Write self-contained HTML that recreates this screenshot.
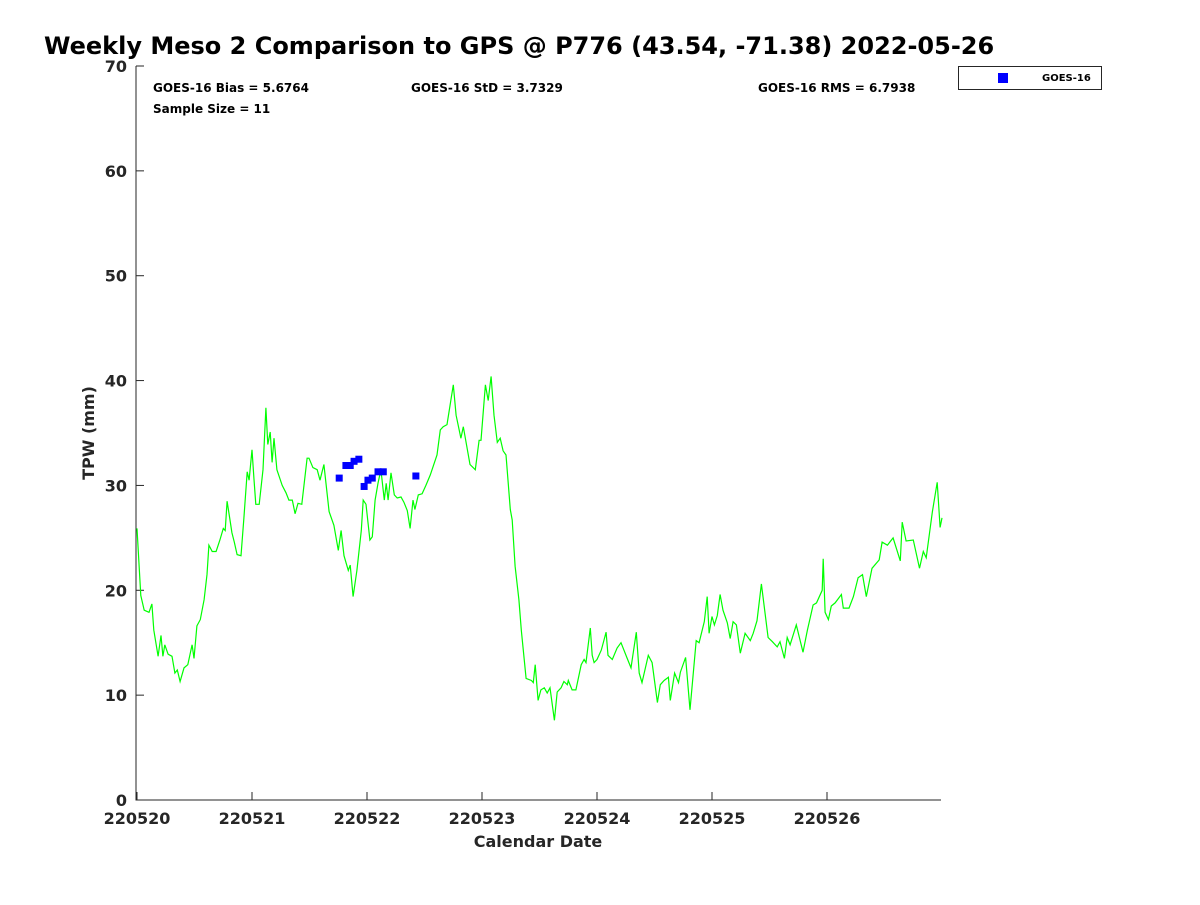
<!DOCTYPE html>
<html><head><meta charset="utf-8"><style>
body{margin:0;background:#fff;}
svg text{font-family:"DejaVu Sans","Liberation Sans",sans-serif;font-weight:bold;}
</style></head><body>
<svg id="chart" width="1200" height="900">
<text x="44" y="54" font-size="24" fill="#000">Weekly Meso 2 Comparison to GPS @ P776 (43.54, -71.38) 2022-05-26</text>
<g id="axes"></g>
<g id="plot"></g>
<text x="153" y="92" font-size="12" fill="#000">GOES-16 Bias = 5.6764</text>
<text x="411" y="92" font-size="12" fill="#000">GOES-16 StD = 3.7329</text>
<text x="758" y="92" font-size="12" fill="#000">GOES-16 RMS = 6.7938</text>
<text x="153" y="113" font-size="12" fill="#000">Sample Size = 11</text>
<text x="538" y="847" font-size="16" fill="#262626" text-anchor="middle">Calendar Date</text>
<text transform="translate(94,433) rotate(-90)" font-size="16" fill="#262626" text-anchor="middle">TPW (mm)</text>
<g>
<rect x="958.5" y="66.5" width="143" height="23" fill="#fff" stroke="#262626"/>
<rect x="998" y="73" width="10" height="10" fill="#0000ff"/>
<text x="1042" y="81" font-size="10" fill="#000">GOES-16</text>
</g>
</svg>
<script>
const gpsHours=[0,0.8,1.5,2.5,3.1,3.5,4.4,5.0,5.4,5.8,6.5,7.3,7.9,8.4,9.0,9.8,10.6,11.5,11.9,12.5,13.2,14.0,14.6,15.0,15.7,16.5,17.3,18.0,18.4,18.8,19.4,19.8,20.3,20.9,21.7,22.3,23.0,23.4,24.0,24.4,24.8,25.5,26.3,26.9,27.3,27.8,28.2,28.6,29.2,30.3,31.1,31.7,32.4,33.0,33.6,34.4,35.5,35.9,36.7,37.6,38.2,39.0,40.1,41.1,42.0,42.6,43.2,44.1,44.5,45.1,45.9,46.8,47.2,47.8,48.6,49.1,49.7,50.3,50.9,51.6,52.0,52.4,53.0,53.7,54.3,55.1,55.7,56.4,57.0,57.6,58.0,58.7,59.5,60.3,61.2,61.8,62.6,63.3,63.9,64.7,66.0,66.6,67.6,68.1,69.5,70.6,71.4,71.8,72.7,73.3,73.9,74.5,75.2,75.8,76.4,77.0,77.9,78.3,78.9,79.7,80.2,81.2,82.3,82.7,83.1,83.7,84.3,85.0,85.6,86.2,87.1,87.7,88.5,89.1,89.8,90.0,90.8,91.6,92.7,93.3,93.7,94.6,95.0,95.4,96.0,96.9,97.9,98.3,99.2,100.2,101.0,102.3,103.1,104.2,104.8,105.4,106.7,107.5,108.6,109.2,110.0,110.9,111.3,112.2,113.0,113.4,114.5,115.4,116.7,117.3,118.4,119.0,119.4,120.0,120.5,121.1,121.7,122.3,123.2,123.8,124.4,125.1,125.9,126.9,128.0,128.6,129.4,130.3,131.7,132.6,133.6,134.2,135.1,135.7,136.3,137.6,139.0,139.9,141.1,141.8,143.0,143.2,143.6,144.3,144.9,145.7,147.0,147.4,148.6,149.5,150.5,151.4,152.2,153.4,154.9,155.5,156.6,157.8,159.3,159.7,160.5,162.0,163.3,164.1,164.7,166.0,167.0,167.6,168.0];
const gpsTpw=[25.9,19.5,18.1,17.9,18.7,16.2,13.7,15.7,13.7,14.8,13.9,13.7,12.1,12.4,11.3,12.6,12.9,14.8,13.5,16.6,17.2,19.1,21.5,24.3,23.7,23.7,24.8,25.9,25.7,28.5,26.7,25.5,24.6,23.4,23.3,26.9,31.3,30.5,33.4,30.7,28.2,28.2,31.5,37.4,33.9,35.1,32.2,34.5,31.5,30.0,29.3,28.6,28.6,27.3,28.3,28.2,32.6,32.6,31.7,31.5,30.5,32.0,27.5,26.2,23.8,25.7,23.3,21.9,22.4,19.4,21.9,25.7,28.6,28.2,24.8,25.1,28.6,30.2,31.5,28.6,30.2,28.6,31.2,29.1,28.8,28.9,28.4,27.6,25.9,28.6,27.7,29.1,29.2,30.0,31.0,31.8,32.9,35.3,35.6,35.8,39.6,36.7,34.5,35.6,32.0,31.5,34.3,34.3,39.6,38.1,40.4,36.7,34.1,34.5,33.3,32.9,27.7,26.7,22.3,19.1,16.2,11.6,11.4,11.2,12.9,9.5,10.5,10.7,10.2,10.7,7.6,10.3,10.7,11.3,11.0,11.4,10.5,10.5,12.9,13.4,13.1,16.4,13.8,13.1,13.4,14.3,16.0,13.8,13.4,14.5,15.0,13.5,12.6,16.0,12.1,11.2,13.8,13.1,9.3,11.0,11.4,11.7,9.5,12.1,11.2,12.2,13.6,8.6,15.2,15.0,17.0,19.4,15.9,17.5,16.7,17.6,19.6,18.1,16.9,15.4,17.0,16.7,14.0,15.9,15.2,15.9,17.1,20.6,15.5,15.1,14.6,15.1,13.5,15.5,14.8,16.7,14.1,16.2,18.6,18.8,20.0,23.0,17.9,17.2,18.5,18.8,19.6,18.3,18.3,19.4,21.2,21.5,19.4,22.1,22.9,24.6,24.3,25.0,22.8,26.5,24.7,24.8,22.1,23.7,23.1,27.5,30.3,26.0,26.9];
const goesHours=[42.2,43.6,44.5,45.3,46.3,47.4,48.2,49.1,50.3,51.4,58.2];
const goesTpw=[30.7,31.9,31.9,32.3,32.5,29.9,30.5,30.7,31.3,31.3,30.9];
const yTicks=[0,10,20,30,40,50,60,70];
const xTickLabels=["220520","220521","220522","220523","220524","220525","220526"];
const NS="http://www.w3.org/2000/svg";
const X0=137,PXH=115/24,Y0=800,PXU=734/70;
const sx=h=>X0+h*PXH, sy=v=>Y0-v*PXU;
const axes=document.getElementById('axes'),plot=document.getElementById('plot');
function mk(tag,attrs,parent){const e=document.createElementNS(NS,tag);for(const k in attrs)e.setAttribute(k,attrs[k]);parent.appendChild(e);return e;}
let e=mk('line',{x1:136,y1:66,x2:136,y2:800.5,stroke:'#262626'},axes);


e=mk('line',{x1:135.5,y1:800,x2:941,y2:800,stroke:'#262626'},axes);


yTicks.forEach(v=>{
 const y=sy(v);
 let t=mk('line',{x1:136,y1:y,x2:144,y2:y,stroke:'#262626'},axes);
 
 
 let l=mk('text',{x:127,y:y+6,'font-size':16,fill:'#262626','text-anchor':'end'},axes);
 l.textContent=v;
 
 
});
xTickLabels.forEach((s,i)=>{
 const x=sx(i*24);
 let t=mk('line',{x1:x,y1:800,x2:x,y2:792,stroke:'#262626'},axes);
 
 
 let l=mk('text',{x:x,y:824,'font-size':16,fill:'#262626','text-anchor':'middle'},axes);
 l.textContent=s;
 
 
});
const pts=gpsHours.map((h,i)=>sx(h).toFixed(1)+','+sy(gpsTpw[i]).toFixed(1)).join(' ');
const line=mk('polyline',{points:pts,fill:'none',stroke:'#00ff00','stroke-width':1.2},plot);


goesHours.forEach((h,i)=>{
 const r=mk('rect',{x:sx(h)-3.5,y:sy(goesTpw[i])-3.5,width:7,height:7,fill:'#0000ff'},plot);
 
 
});
</script>
</body></html>
